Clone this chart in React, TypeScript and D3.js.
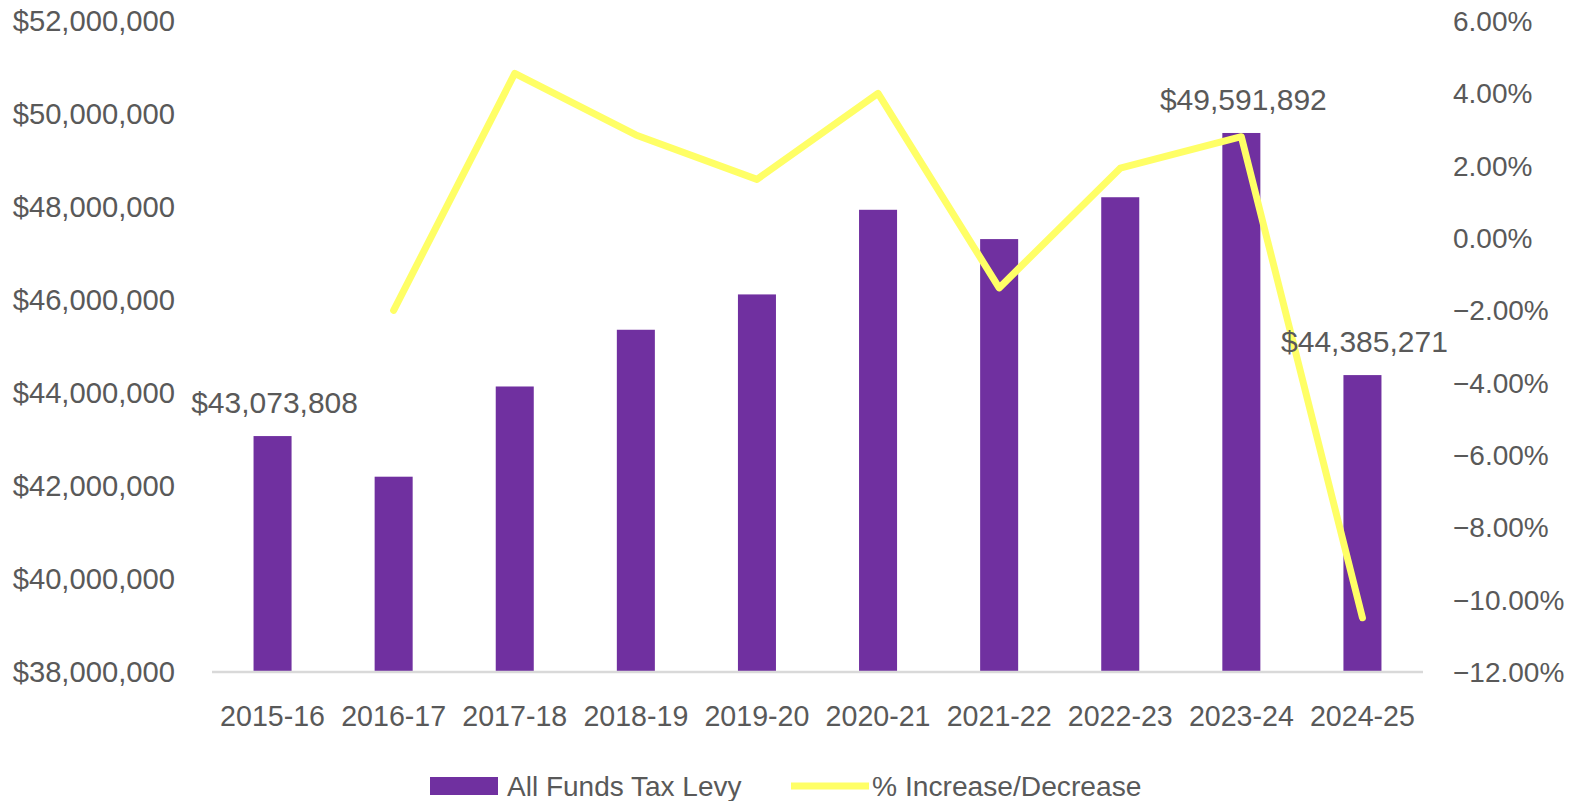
import React from "react";
import * as d3 from "d3";

const categories = ["2015-16","2016-17","2017-18","2018-19","2019-20","2020-21","2021-22","2022-23","2023-24","2024-25"];
const levy = [43073808, 42200000, 44140000, 45360000, 46120000, 47940000, 47310000, 48210000, 49591892, 44385271];
const pctChange: (number | null)[] = [null, -2.0, 4.55, 2.85, 1.62, 4.0, -1.38, 1.93, 2.8, -10.5];
const leftTicks = [38e6, 40e6, 42e6, 44e6, 46e6, 48e6, 50e6, 52e6];
const rightTicks = [-12, -10, -8, -6, -4, -2, 0, 2, 4, 6];
const labeledIdx = [0, 8, 9];

const W = 1576, H = 801;
const FONT = "'Liberation Sans', Arial, sans-serif";
const TXT = "#595959";

export default function App() {
  const x = d3.scaleBand<string>().domain(categories).range([212, 1423]).paddingInner(0.686).paddingOuter(0.343);
  const yL = d3.scaleLinear().domain([38e6, 52e6]).range([672, 21]);
  const yR = d3.scaleLinear().domain([-12, 6]).range([672, 21]);
  const money = (v: number) => "$" + d3.format(",")(v);
  const cx = (c: string) => (x(c) as number) + x.bandwidth() / 2;

  const linePts = categories.map((c, i) => [cx(c), pctChange[i]] as [number, number | null]).filter(d => d[1] !== null) as [number, number][];
  const line = d3.line<[number, number]>().x(d => d[0]).y(d => yR(d[1]));

  return (
    <svg width={W} height={H} style={{ position: "absolute", left: 0, top: 0, background: "#fff" }} fontFamily={FONT}>
      {categories.map((c, i) => (
        <rect key={c} x={x(c)} width={x.bandwidth()} y={yL(levy[i])} height={yL(38e6) - yL(levy[i])} fill="#7030A0" />
      ))}
      <line x1={212} x2={1423} y1={yL(38e6)} y2={yL(38e6)} stroke="#D9D9D9" strokeWidth={2.5} />
      <path d={line(linePts) || ""} fill="none" stroke="#FFFF66" strokeWidth={7} strokeLinejoin="round" strokeLinecap="round" />
      {labeledIdx.map(i => (
        <text key={i} x={cx(categories[i]) + 2} y={yL(levy[i]) - 23} textAnchor="middle" fontSize={30} fill={TXT}>{money(levy[i])}</text>
      ))}
      {leftTicks.map(t => (
        <text key={t} x={175} y={yL(t) + 10} textAnchor="end" fontSize={29.2} fill={TXT}>{money(t)}</text>
      ))}
      {rightTicks.map(t => (
        <text key={t} x={1453} y={yR(t) + 10} textAnchor="start" fontSize={28} fill={TXT}>{d3.format(".2f")(t) + "%"}</text>
      ))}
      {categories.map(c => (
        <text key={c} x={cx(c)} y={726} textAnchor="middle" fontSize={28.6} fill={TXT}>{c}</text>
      ))}
      <rect x={430} y={777} width={68} height={18} fill="#7030A0" />
      <text x={507} y={796} fontSize={28} fill={TXT}>All Funds Tax Levy</text>
      <line x1={791} x2={869} y1={786} y2={786} stroke="#FFFF66" strokeWidth={7} />
      <text x={872} y={796} fontSize={28.2} fill={TXT}>% Increase/Decrease</text>
    </svg>
  );
}
